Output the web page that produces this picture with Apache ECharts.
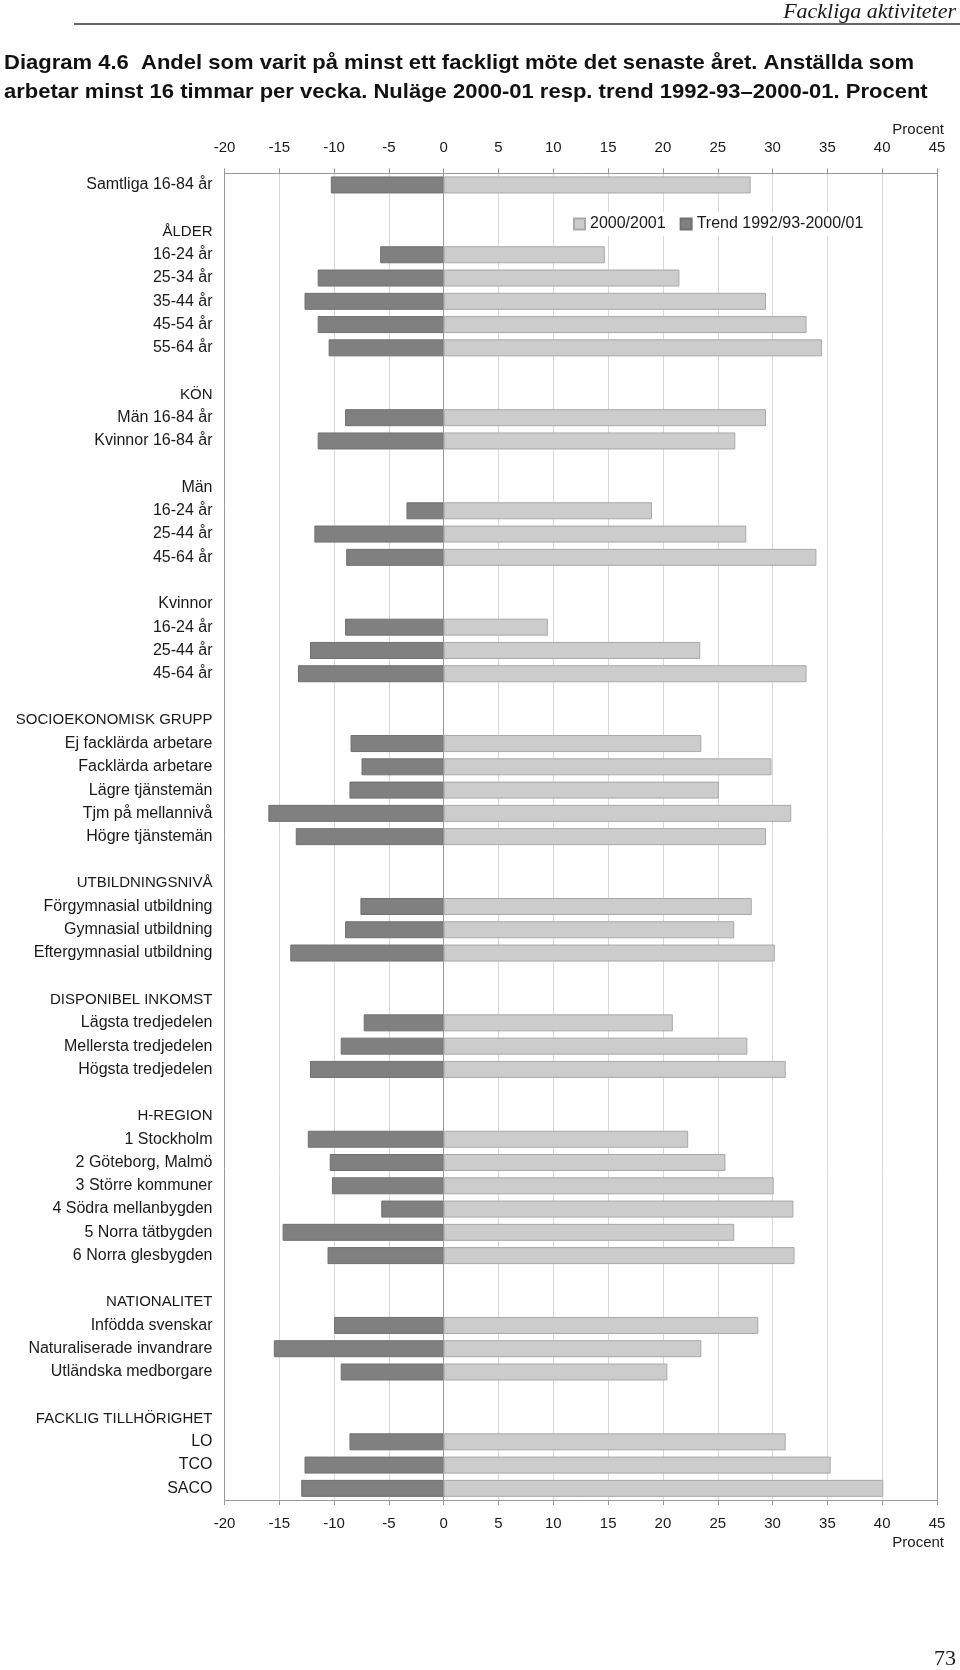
<!DOCTYPE html>
<html><head><meta charset="utf-8">
<script src="https://cdn.jsdelivr.net/npm/echarts@6/dist/echarts.min.js"></script>
<style>html,body{margin:0;padding:0;background:#fff}#c{width:960px;height:1670px}</style>
</head><body><div id="c"></div>
<script>
// ---- data ----
const categories = [
  "Samtliga 16-84 år", "", "ÅLDER", "16-24 år", "25-34 år", "35-44 år", "45-54 år", "55-64 år",
  "", "KÖN", "Män 16-84 år", "Kvinnor 16-84 år",
  "", "Män", "16-24 år", "25-44 år", "45-64 år",
  "", "Kvinnor", "16-24 år", "25-44 år", "45-64 år",
  "", "SOCIOEKONOMISK GRUPP", "Ej facklärda arbetare", "Facklärda arbetare", "Lägre tjänstemän", "Tjm på mellannivå", "Högre tjänstemän",
  "", "UTBILDNINGSNIVÅ", "Förgymnasial utbildning", "Gymnasial utbildning", "Eftergymnasial utbildning",
  "", "DISPONIBEL INKOMST", "Lägsta tredjedelen", "Mellersta tredjedelen", "Högsta tredjedelen",
  "", "H-REGION", "1 Stockholm", "2 Göteborg, Malmö", "3 Större kommuner", "4 Södra mellanbygden", "5 Norra tätbygden", "6 Norra glesbygden",
  "", "NATIONALITET", "Infödda svenskar", "Naturaliserade invandrare", "Utländska medborgare",
  "", "FACKLIG TILLHÖRIGHET", "LO", "TCO", "SACO"
];
const groupHeaders = ["ÅLDER", "KÖN", "SOCIOEKONOMISK GRUPP", "UTBILDNINGSNIVÅ", "DISPONIBEL INKOMST", "H-REGION", "NATIONALITET", "FACKLIG TILLHÖRIGHET"];
const current = [
  28.0, null, null, 14.7, 21.5, 29.4, 33.1, 34.5,
  null, null, 29.4, 26.6,
  null, null, 19.0, 27.6, 34.0,
  null, null, 9.5, 23.4, 33.1,
  null, null, 23.5, 29.9, 25.1, 31.7, 29.4,
  null, null, 28.1, 26.5, 30.2,
  null, null, 20.9, 27.7, 31.2,
  null, null, 22.3, 25.7, 30.1, 31.9, 26.5, 32.0,
  null, null, 28.7, 23.5, 20.4,
  null, null, 31.2, 35.3, 40.1
];
const trend = [
  -10.3, null, null, -5.8, -11.5, -12.7, -11.5, -10.5,
  null, null, -9.0, -11.5,
  null, null, -3.4, -11.8, -8.9,
  null, null, -9.0, -12.2, -13.3,
  null, null, -8.5, -7.5, -8.6, -16.0, -13.5,
  null, null, -7.6, -9.0, -14.0,
  null, null, -7.3, -9.4, -12.2,
  null, null, -12.4, -10.4, -10.2, -5.7, -14.7, -10.6,
  null, null, -10.0, -15.5, -9.4,
  null, null, -8.6, -12.7, -13.0
];
const seriesNames = ["2000/2001", "Trend 1992/93-2000/01"];
const xMin = -20, xMax = 45, xStep = 5;
const title1 = "Diagram 4.6  Andel som varit på minst ett fackligt möte det senaste året. Anställda som";
const title2 = "arbetar minst 16 timmar per vecka. Nuläge 2000-01 resp. trend 1992-93–2000-01. Procent";
const unitLabel = "Procent";
const runningHead = "Fackliga aktiviteter";
const pageNo = "73";

// ---- chart ----
const keys = categories.map((_, i) => String(i));
const ctx = document.createElement('canvas').getContext('2d');
ctx.font = 'bold 21px "Liberation Sans"';
const tScale = 910 / ctx.measureText(title1).width;

const FONT = '"Liberation Sans", Arial, sans-serif';
const chart = echarts.init(document.getElementById('c'), null, {renderer: 'canvas'});
const grid = {left: 224.5, right: 23, top: 173.3, bottom: 170};
const xCommon = {
  type: 'value', min: xMin, max: xMax, interval: xStep,
  axisLine: {show: true, onZero: false, lineStyle: {color: '#999', width: 1}},
  axisTick: {show: true, inside: false, length: 5, lineStyle: {color: '#999'}},
  axisLabel: {color: '#1a1a1a', fontSize: 15, fontFamily: FONT}
};
chart.setOption({
  animation: false,
  backgroundColor: '#fff',
  grid: grid,
  legend: {
    data: seriesNames, left: 567, top: 212, padding: [4, 6], icon: 'rect',
    backgroundColor: '#fff', itemWidth: 11, itemHeight: 11, itemGap: 14,
    textStyle: {color: '#1a1a1a', fontSize: 16, fontFamily: FONT}
  },
  xAxis: [
    Object.assign({}, xCommon, {position: 'bottom',
      axisLabel: Object.assign({}, xCommon.axisLabel, {margin: 16}),
      splitLine: {show: true, lineStyle: {color: '#d8d8d8', width: 1}}}),
    Object.assign({}, xCommon, {position: 'top',
      axisLabel: Object.assign({}, xCommon.axisLabel, {margin: 18}),
      splitLine: {show: false}})
  ],
  yAxis: [
    {type: 'category', data: keys, inverse: true, position: 'left',
     axisLine: {show: true, onZero: false, lineStyle: {color: '#999'}},
     axisTick: {show: false},
     axisLabel: {interval: 0, margin: 12, color: '#1a1a1a', fontSize: 16, fontFamily: FONT,
       formatter: (v, i) => {
         const t = categories[i];
         return groupHeaders.indexOf(t) >= 0 ? '{h|' + t + '}' : t;
       },
       rich: {h: {fontSize: 15, fontFamily: FONT, color: '#1a1a1a'}}}},
    {type: 'category', data: keys, inverse: true, position: 'right',
     axisLine: {show: true, onZero: false, lineStyle: {color: '#999'}},
     axisTick: {show: false}, axisLabel: {show: false}}
  ],
  series: [
    {name: seriesNames[0], type: 'bar', data: current, barWidth: 17, barGap: '-100%',
     itemStyle: {color: '#cccccc', borderColor: '#a8a8a8', borderWidth: 1},
     markLine: {silent: true, symbol: ['none', 'none'], label: {show: false},
       lineStyle: {color: '#999', width: 1, type: 'solid'}, data: [{xAxis: 0}]}},
    {name: seriesNames[1], type: 'bar', data: trend, barWidth: 17, barGap: '-100%',
     itemStyle: {color: '#808080', borderColor: '#707070', borderWidth: 1}}
  ],
  graphic: [
    {type: 'text', x: 956, y: 12, style: {text: runningHead, textAlign: 'right', textVerticalAlign: 'middle',
      font: 'italic 22px "Liberation Serif", "Times New Roman", serif', fill: '#1a1a1a'}},
    {type: 'line', shape: {x1: 74, y1: 24, x2: 960, y2: 24}, style: {stroke: '#333', lineWidth: 1.5}},
    {type: 'text', x: 4, y: 63, scaleX: tScale, style: {text: title1, textVerticalAlign: 'middle',
      font: 'bold 21px "Liberation Sans", Arial, sans-serif', fill: '#111'}},
    {type: 'text', x: 4, y: 92, scaleX: tScale, style: {text: title2, textVerticalAlign: 'middle',
      font: 'bold 21px "Liberation Sans", Arial, sans-serif', fill: '#111'}},
    {type: 'text', x: 944, y: 130, style: {text: unitLabel, textAlign: 'right', textVerticalAlign: 'middle',
      font: '15px "Liberation Sans", Arial, sans-serif', fill: '#1a1a1a'}},
    {type: 'text', x: 944, y: 1543, style: {text: unitLabel, textAlign: 'right', textVerticalAlign: 'middle',
      font: '15px "Liberation Sans", Arial, sans-serif', fill: '#1a1a1a'}},
    {type: 'text', x: 956, y: 1659, style: {text: pageNo, textAlign: 'right', textVerticalAlign: 'middle',
      font: '22px "Liberation Serif", "Times New Roman", serif', fill: '#1a1a1a'}}
  ]
});
</script></body></html>
